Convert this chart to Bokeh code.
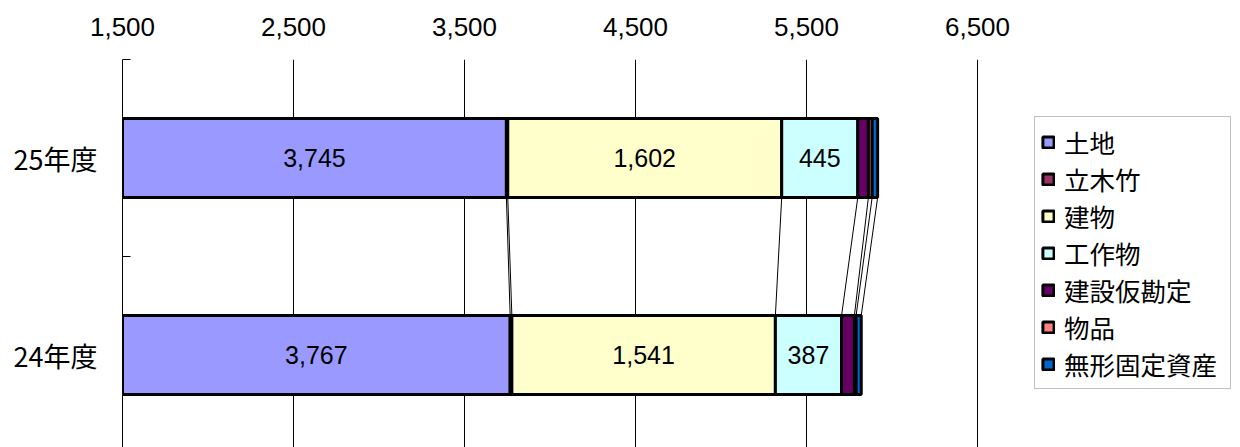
import numpy as np
from bokeh.plotting import figure
from bokeh.models import Range1d, FixedTicker, Legend, LegendItem, NumeralTickFormatter
from bokeh.core.properties import value
from bokeh.embed import file_html
from bokeh.resources import INLINE

# ---------------- data ----------------
years = ["25年度", "24年度"]
series = ["土地", "立木竹", "建物", "工作物", "建設仮勘定", "物品", "無形固定資産"]
vals_25 = [3745, 8, 1602, 445, 62, 22, 32]
vals_24 = [3767, 10, 1541, 387, 75, 10, 30]
colors = ["#9999FF", "#993366", "#FFFFCC", "#CCFFFF", "#660066", "#FF8080", "#0066CC"]
labelled = ["土地", "建物", "工作物"]
x_ticks = [1500, 2500, 3500, 4500, 5500, 6500]

JP = "Noto Sans CJK JP"
NUM = "Liberation Sans"

# ---------------- layout ----------------
W, H = 1240, 447
left_px, top_px = 122, 59
px_per_unit = 171.0 / 1000.0
cat_px = 197.0
frame_w = W - left_px
frame_h = H - top_px
x0 = x_ticks[0]
x_end = x0 + frame_w / px_per_unit
n = len(years)
y_end = float(n)
y_start = y_end - frame_h / cat_px

p = figure(width=W, height=H,
           x_range=Range1d(x0, x_end), y_range=Range1d(y_start, y_end),
           x_axis_location="above", output_backend="svg", toolbar_location=None,
           min_border_left=left_px, min_border_top=top_px,
           min_border_right=0, min_border_bottom=0)
p.outline_line_color = None
p.background_fill_color = "white"

# category positions (first year on top)
ys = [n - 1 - i + 0.5 for i in range(n)]
rows = np.array([vals_25, vals_24], dtype=float)
ends = np.cumsum(rows, axis=1)
starts = ends - rows
bar_h = 0.4

# x axis (top)
p.xaxis.ticker = FixedTicker(ticks=x_ticks)
p.xaxis.formatter = NumeralTickFormatter(format="0,0")
p.xaxis.axis_line_color = None
p.xaxis.major_tick_in = 0
p.xaxis.major_tick_out = 0
p.xaxis.minor_tick_line_color = None
p.xaxis.major_label_text_font = NUM
p.xaxis.major_label_text_font_size = "26px"
p.xaxis.major_label_text_color = "black"
p.xaxis.major_label_standoff = 24

p.xgrid.ticker = FixedTicker(ticks=x_ticks)
p.xgrid.grid_line_color = "black"
p.xgrid.grid_line_width = 1
p.ygrid.visible = False

# y axis (left)
p.yaxis.ticker = FixedTicker(ticks=ys, minor_ticks=[float(k) for k in range(n + 1)])
p.yaxis.major_label_overrides = {y: lab for y, lab in zip(ys, years)}
p.yaxis.axis_line_color = "black"
p.yaxis.axis_line_width = 1
p.yaxis.major_tick_in = 0
p.yaxis.major_tick_out = 0
p.yaxis.minor_tick_in = 8
p.yaxis.minor_tick_out = 0
p.yaxis.minor_tick_line_color = "black"
p.yaxis.major_label_text_font = JP
p.yaxis.major_label_text_font_size = "27px"
p.yaxis.major_label_text_color = "black"
p.yaxis.major_label_standoff = 25

# series lines between bars
for j in range(len(series)):
    for i in range(n - 1):
        p.segment(x0=[ends[i, j]], y0=[ys[i] - bar_h / 2],
                  x1=[ends[i + 1, j]], y1=[ys[i + 1] + bar_h / 2],
                  line_color="black", line_width=1)

# bars
renderers = []
for j, s in enumerate(series):
    r = p.hbar(y=ys, left=starts[:, j], right=ends[:, j], height=bar_h,
               fill_color=colors[j], line_color="black", line_width=3)
    renderers.append(r)

# value labels
lx, ly, lt = [], [], []
for j, s in enumerate(series):
    if s not in labelled:
        continue
    for i in range(n):
        a = max(starts[i, j], x0)
        b = ends[i, j]
        lx.append((a + b) / 2)
        ly.append(ys[i])
        lt.append(f"{int(rows[i, j]):,}")
p.text(x=lx, y=ly, text=lt, text_align="center", text_baseline="middle",
       text_font=value(NUM), text_font_size="25px", text_color="black")

legend = Legend(items=[LegendItem(label=s, renderers=[r]) for s, r in zip(series, renderers)],
                location=(1034 - left_px, 58))
legend.label_text_font = JP
legend.label_text_font_size = "25.5px"
legend.label_text_color = "black"
legend.label_height = 30
legend.label_width = 160
legend.glyph_height = 14
legend.glyph_width = 14
legend.label_standoff = 9
legend.spacing = 0
legend.padding = 6
legend.margin = 0
legend.border_line_color = "#808080"
legend.border_line_width = 1.5
legend.background_fill_color = "white"
legend.background_fill_alpha = 1.0
p.add_layout(legend)

open("out.html", "w").write(file_html(p, INLINE))
